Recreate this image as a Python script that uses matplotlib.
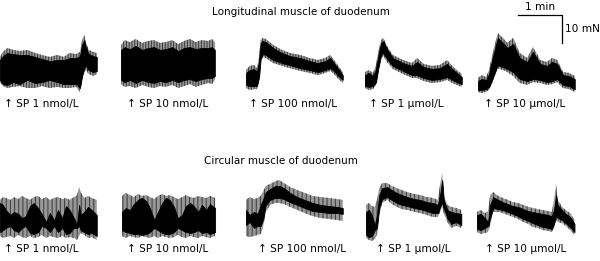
import matplotlib.pyplot as plt

# Isometric tension traces, SP on duodenum muscle strips.
# time in s, force in mN; "hi/lo" = outer (grey) range, "chi/clo" = dense black core

# --- longitudinal muscle ---
lm1_t = [0, 4, 10, 18, 27, 37, 48, 57, 68, 78, 87, 95, 104, 109, 112, 115, 117, 121, 127, 132]
lm1_hi = [13.6, 15.4, 16.8, 16.1, 15.7, 16.1, 15.0, 14.3, 13.6, 14.3, 13.6, 15.0, 14.6, 15.4, 19.6, 21.4, 18.9, 16.1, 15.4, 15.0]
lm1_lo = [4.6, 3.2, 2.5, 2.9, 3.2, 2.5, 2.5, 3.2, 2.5, 2.9, 2.5, 2.5, 2.9, 1.1, 5.4, 8.2, 8.9, 7.5, 6.8, 7.5]
lm1_chi = [12.5, 13.9, 15.0, 14.6, 14.3, 14.3, 13.6, 12.9, 12.1, 12.5, 12.5, 13.2, 13.2, 13.9, 17.9, 19.6, 17.1, 14.6, 13.9, 13.6]
lm1_clo = [5.4, 3.9, 3.6, 4.6, 3.9, 5.4, 4.3, 4.6, 5.4, 4.6, 3.9, 3.9, 3.9, 2.5, 6.8, 9.6, 10.4, 8.9, 8.2, 8.6]

lm2_t = [0, 5, 12, 20, 29, 37, 45, 53, 61, 70, 78, 86, 94, 102, 110, 119, 124, 128]
lm2_hi = [17.9, 19.6, 18.9, 20.0, 18.6, 19.3, 19.6, 18.6, 18.9, 19.6, 18.2, 19.3, 20.0, 18.9, 19.6, 19.3, 20.0, 18.9]
lm2_lo = [3.9, 2.9, 3.2, 2.5, 3.6, 2.9, 2.5, 3.2, 2.9, 3.6, 2.5, 3.2, 3.9, 2.9, 3.6, 4.3, 3.9, 5.4]
lm2_chi = [16.1, 17.1, 16.4, 17.5, 16.1, 16.8, 17.1, 16.1, 16.4, 17.1, 15.7, 16.8, 17.1, 16.4, 16.8, 16.8, 17.1, 16.1]
lm2_clo = [5.4, 4.6, 5.4, 4.3, 5.4, 4.6, 4.3, 5.0, 4.6, 5.4, 4.6, 5.4, 5.7, 5.0, 5.7, 6.1, 6.1, 6.8]

lm3_t = [0, 5, 11, 15, 18, 20, 23, 27, 37, 49, 60, 74, 87, 98, 108, 115, 120, 126, 132]
lm3_hi = [8.9, 10.4, 10.7, 9.6, 14.3, 19.6, 20.4, 20.0, 17.9, 16.1, 15.0, 14.3, 13.2, 12.5, 13.2, 14.3, 12.5, 10.4, 8.2]
lm3_lo = [2.5, 1.8, 2.1, 2.1, 5.4, 11.8, 13.6, 13.2, 11.4, 10.4, 9.6, 8.6, 7.9, 7.1, 7.9, 8.6, 7.5, 5.7, 4.3]
lm3_chi = [7.9, 8.9, 9.3, 8.2, 12.5, 18.6, 19.3, 18.9, 16.8, 15.0, 13.9, 13.2, 12.1, 11.4, 12.1, 13.2, 11.4, 9.3, 7.1]
lm3_clo = [3.6, 3.2, 3.2, 3.2, 6.8, 12.9, 14.6, 14.3, 12.5, 11.4, 10.7, 9.6, 8.9, 8.2, 8.9, 9.6, 8.6, 6.8, 5.4]

lm4_t = [0, 5, 11, 15, 18, 22, 25, 30, 38, 52, 64, 71, 80, 91, 102, 112, 119, 125, 132]
lm4_hi = [8.2, 8.9, 7.9, 10.7, 15.4, 19.6, 20.4, 17.5, 14.3, 12.5, 11.4, 13.2, 11.1, 10.4, 10.7, 12.5, 10.4, 8.9, 7.5]
lm4_lo = [2.5, 1.8, 2.1, 3.6, 8.2, 13.2, 13.9, 11.8, 9.3, 7.5, 6.1, 6.1, 5.0, 4.3, 4.6, 5.4, 4.3, 3.6, 2.9]
lm4_chi = [7.1, 7.9, 6.8, 9.3, 13.9, 18.6, 19.3, 16.4, 13.2, 11.4, 10.4, 11.8, 10.0, 9.3, 9.6, 11.1, 9.3, 7.9, 6.4]
lm4_clo = [3.2, 2.9, 3.2, 4.6, 9.3, 14.3, 15.0, 12.9, 10.4, 8.6, 7.1, 7.1, 6.1, 5.4, 5.7, 6.4, 5.4, 4.6, 3.9]

lm5_t = [0, 5, 11, 15, 18, 22, 27, 34, 40, 48, 57, 67, 75, 85, 94, 101, 108, 116, 124, 132]
lm5_hi = [6.1, 7.1, 6.4, 8.9, 12.5, 17.1, 22.1, 20.4, 18.6, 20.4, 15.0, 13.2, 17.1, 12.5, 11.8, 13.2, 12.5, 8.2, 7.9, 6.8]
lm5_lo = [1.1, 0.7, 1.1, 1.8, 3.6, 6.1, 9.6, 8.9, 8.2, 6.8, 4.3, 3.6, 4.6, 4.3, 3.6, 3.9, 4.6, 2.5, 2.1, 1.1]
lm5_chi = [5.0, 5.7, 5.4, 7.5, 11.1, 15.4, 20.4, 18.6, 16.8, 18.2, 13.2, 11.8, 15.4, 11.1, 10.4, 11.8, 11.1, 7.1, 6.8, 5.7]
lm5_clo = [1.8, 1.8, 2.1, 2.9, 4.6, 7.5, 10.7, 10.0, 9.3, 8.2, 5.7, 5.0, 5.7, 5.4, 4.6, 5.0, 5.7, 3.6, 3.2, 2.1]

# --- circular muscle ---
cm1_t = [0, 4, 8, 14, 19, 25, 30, 35, 41, 46, 52, 57, 63, 68, 74, 79, 85, 90, 95, 101, 105, 108, 110, 115, 120, 125, 132]
cm1_hi = [15.4, 16.4, 16.1, 15.4, 16.4, 15.7, 16.8, 16.1, 15.4, 16.4, 16.8, 15.7, 16.4, 15.4, 16.1, 16.4, 15.7, 16.1, 15.4, 16.4, 17.1, 20.0, 18.2, 16.1, 16.8, 16.1, 15.4]
cm1_lo = [2.5, 1.8, 2.1, 2.5, 1.8, 2.9, 2.1, 1.8, 2.5, 1.8, 2.1, 2.9, 1.8, 2.5, 2.1, 1.8, 2.5, 1.8, 2.1, 1.8, 1.1, 2.5, 3.6, 2.9, 1.8, 2.1, 1.1]
cm1_chi = [14.3, 13.6, 11.8, 10.0, 11.1, 10.4, 8.9, 9.6, 13.2, 14.3, 12.5, 10.4, 7.5, 10.7, 8.2, 11.8, 8.9, 13.2, 11.8, 8.9, 6.4, 13.6, 10.0, 11.1, 12.9, 11.8, 10.0]
cm1_clo = [3.9, 4.6, 5.4, 6.1, 4.6, 3.9, 5.4, 6.1, 3.6, 3.2, 3.9, 6.1, 5.4, 3.9, 6.1, 3.9, 5.4, 3.2, 3.6, 5.4, 5.4, 6.1, 4.6, 3.9, 3.2, 3.6, 2.5]

cm2_t = [0, 5, 11, 16, 22, 27, 33, 38, 44, 49, 55, 60, 65, 71, 76, 82, 87, 93, 98, 104, 109, 115, 120, 127]
cm2_hi = [16.8, 17.9, 17.1, 16.4, 17.5, 16.8, 17.1, 16.4, 15.7, 16.8, 17.5, 16.8, 17.1, 16.4, 15.7, 16.4, 17.1, 16.4, 16.1, 16.8, 16.4, 16.1, 16.8, 16.1]
cm2_lo = [2.5, 1.8, 2.5, 2.1, 1.8, 2.5, 2.1, 1.8, 2.5, 1.8, 2.5, 2.1, 1.8, 2.1, 2.9, 2.1, 1.8, 2.5, 2.1, 1.8, 2.5, 2.1, 1.8, 2.5]
cm2_chi = [11.1, 12.5, 11.8, 13.9, 15.4, 16.1, 15.0, 12.5, 8.2, 11.1, 14.3, 16.1, 15.4, 12.9, 8.9, 10.0, 13.2, 14.3, 13.2, 11.1, 13.6, 11.8, 13.9, 12.5]
cm2_clo = [4.6, 3.9, 3.6, 3.2, 3.2, 2.9, 3.2, 3.9, 5.4, 4.6, 3.6, 3.2, 3.2, 3.9, 5.4, 4.6, 3.9, 3.6, 3.9, 4.6, 3.6, 3.9, 3.2, 3.9]

cm3_t = [0, 5, 11, 16, 20, 23, 27, 33, 40, 45, 52, 60, 70, 80, 91, 102, 113, 124, 132]
cm3_hi = [15.4, 16.4, 15.7, 16.1, 16.8, 18.2, 20.4, 21.1, 22.1, 22.5, 21.4, 20.0, 18.9, 17.9, 16.8, 16.4, 16.1, 15.7, 15.4]
cm3_lo = [2.5, 2.1, 2.5, 2.9, 3.2, 5.4, 11.1, 13.6, 14.3, 14.3, 13.9, 12.9, 11.8, 10.7, 9.6, 8.9, 8.6, 8.2, 7.9]
cm3_chi = [11.8, 10.0, 11.1, 10.4, 13.6, 15.4, 18.2, 19.3, 20.4, 20.4, 19.6, 17.9, 16.4, 15.4, 14.3, 13.6, 13.2, 12.9, 12.5]
cm3_clo = [6.4, 7.5, 5.4, 6.1, 6.1, 8.2, 13.6, 15.4, 16.1, 16.1, 15.7, 14.6, 13.6, 12.5, 11.4, 11.1, 10.7, 10.7, 10.4]

cm4_t = [0, 4, 8, 12, 15, 18, 22, 29, 35, 42, 49, 56, 66, 74, 83, 91, 98, 101, 104, 106, 111, 116, 123, 130]
cm4_hi = [13.6, 14.3, 13.2, 12.9, 15.4, 19.6, 21.4, 21.4, 20.4, 19.6, 18.9, 18.2, 17.5, 17.1, 16.4, 16.1, 15.4, 20.7, 25.0, 17.1, 13.6, 12.9, 12.5, 11.8]
cm4_lo = [1.8, 1.1, 0.7, 1.4, 2.9, 10.0, 14.3, 15.4, 13.9, 12.9, 12.1, 11.8, 11.1, 10.7, 10.0, 9.3, 9.3, 11.1, 12.9, 10.7, 7.5, 5.4, 6.1, 5.4]
cm4_chi = [11.1, 11.8, 10.0, 6.4, 10.0, 17.1, 19.6, 20.0, 18.9, 17.9, 17.1, 16.4, 15.7, 15.4, 14.6, 14.3, 13.6, 17.1, 22.5, 15.4, 11.8, 11.1, 10.7, 10.4]
cm4_clo = [2.9, 2.1, 2.5, 4.6, 5.4, 12.5, 15.7, 16.4, 15.4, 14.3, 13.6, 13.2, 12.5, 12.1, 11.4, 10.7, 10.7, 12.9, 14.3, 12.5, 8.9, 6.8, 7.5, 6.4]

cm5_t = [0, 5, 11, 15, 18, 22, 29, 35, 42, 49, 56, 63, 70, 76, 83, 90, 97, 102, 105, 108, 110, 116, 121, 127, 133]
cm5_hi = [11.1, 11.8, 10.7, 11.4, 17.1, 18.2, 16.8, 16.1, 15.4, 14.6, 14.3, 13.6, 12.9, 12.5, 12.1, 11.8, 11.4, 11.1, 15.4, 20.7, 15.4, 12.9, 11.8, 10.7, 8.2]
cm5_lo = [3.9, 3.2, 3.6, 3.9, 6.4, 11.1, 11.1, 10.7, 10.0, 9.3, 8.6, 7.5, 6.8, 5.7, 5.4, 4.6, 4.3, 3.9, 5.4, 8.2, 7.5, 7.1, 6.1, 4.6, 2.9]
cm5_chi = [10.0, 10.4, 8.9, 7.5, 13.6, 16.4, 15.4, 14.6, 13.9, 13.2, 12.9, 12.1, 11.4, 11.1, 10.7, 10.4, 10.0, 9.6, 11.8, 17.1, 13.6, 11.8, 10.4, 9.3, 6.8]
cm5_clo = [5.0, 4.6, 5.4, 6.1, 8.9, 12.5, 12.1, 11.8, 11.1, 10.4, 9.6, 8.6, 7.9, 7.1, 6.4, 5.7, 5.4, 5.0, 6.8, 10.0, 8.9, 8.2, 7.1, 5.7, 3.9]

doses = ["1 nmol/L", "10 nmol/L", "100 nmol/L", "1 μmol/L", "10 μmol/L"]
lm_add_t = [9, 12, 8, 10, 12]      # time of SP addition (arrow), s
cm_add_t = [9, 11, 20, 18, 15]

lm_traces = [
    (lm1_t, lm1_hi, lm1_lo, lm1_chi, lm1_clo),
    (lm2_t, lm2_hi, lm2_lo, lm2_chi, lm2_clo),
    (lm3_t, lm3_hi, lm3_lo, lm3_chi, lm3_clo),
    (lm4_t, lm4_hi, lm4_lo, lm4_chi, lm4_clo),
    (lm5_t, lm5_hi, lm5_lo, lm5_chi, lm5_clo),
]
cm_traces = [
    (cm1_t, cm1_hi, cm1_lo, cm1_chi, cm1_clo),
    (cm2_t, cm2_hi, cm2_lo, cm2_chi, cm2_clo),
    (cm3_t, cm3_hi, cm3_lo, cm3_chi, cm3_clo),
    (cm4_t, cm4_hi, cm4_lo, cm4_chi, cm4_clo),
    (cm5_t, cm5_hi, cm5_lo, cm5_chi, cm5_clo),
]

W, H = 600, 261
GREY = "#979797"
FS = 7.6
px_s = 1.364    # seconds per pixel (1 min = 44 px)
px_mN = 2.8     # pixels per mN (10 mN = 28 px)

plt.rcParams["hatch.linewidth"] = 0.7
fig = plt.figure(figsize=(W / 100, H / 100), dpi=100)


def add_row(traces, lefts, base_px, ymax, add_t, label_y, hatch):
    axes = []
    for k, (t, hi, lo, chi, clo) in enumerate(traces):
        ax = fig.add_axes([lefts[k] / W, (H - base_px) / H, 133 / px_s / W, ymax * px_mN / H])
        # grey oscillation range, striped to look like the fast pen strokes
        ax.fill_between(t, lo, hi, fc=GREY, ec="#3a3a3a", lw=0, hatch=hatch)
        ax.fill_between(t, clo, chi, fc="black", ec="black", lw=0.6)
        ax.set_xlim(0, 133)
        ax.set_ylim(0, ymax)
        ax.axis("off")
        ax.text(add_t[k] - 4, label_y, "↑ SP " + doses[k], fontsize=FS,
                ha="left", va="center", clip_on=False)
        axes.append(ax)
    return axes


top = add_row(lm_traces, [0, 121, 246, 365, 478], 95, 24, lm_add_t, -3.3, "||||||")
bot = add_row(cm_traces, [0, 122, 246, 366, 477], 243, 26, cm_add_t, -2.2, "||||")

fig.text(301 / W, 1 - 12 / H, "Longitudinal muscle of duodenum", fontsize=7.5, ha="center", va="center")
fig.text(281 / W, 1 - 161 / H, "Circular muscle of duodenum", fontsize=7.5, ha="center", va="center")

# scale bar: 1 min / 10 mN
ax = top[4]
x0, y0 = 55, 28.6
ax.plot([x0, x0 + 60, x0 + 60], [y0, y0, y0 - 10], color="black", lw=0.9, clip_on=False)
ax.text(x0 + 30, y0 + 1.0, "1 min", fontsize=FS, ha="center", va="bottom", clip_on=False)
ax.text(x0 + 63, y0 - 5, "10 mN", fontsize=FS, ha="left", va="center", clip_on=False)

fig.savefig("out.png", dpi=100)
